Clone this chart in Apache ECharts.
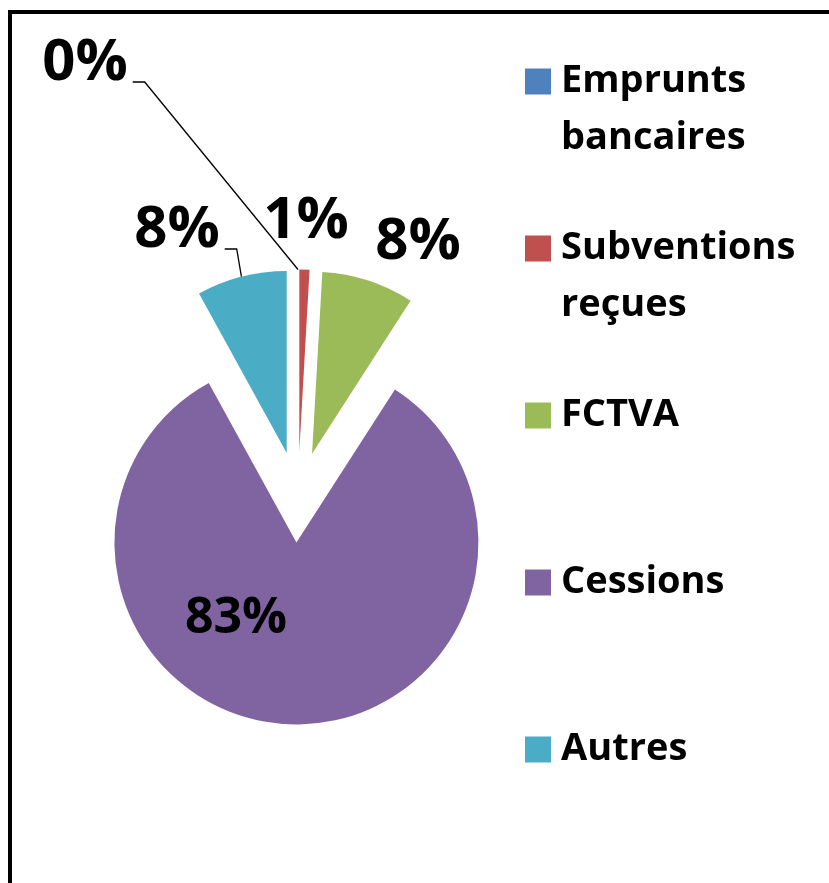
<!DOCTYPE html>
<html>
<head>
<meta charset="utf-8">
<script src="https://cdn.jsdelivr.net/npm/echarts@6/dist/echarts.min.js"></script>
<style>
html,body{margin:0;padding:0;background:#fff}
#chart{width:829px;height:883px}
</style>
</head>
<body>
<div id="chart"></div>
<script>
// data
var categories = ['Emprunts bancaires', 'Subventions reçues', 'FCTVA', 'Cessions', 'Autres'];
var legendLines = [['Emprunts', 'bancaires'], ['Subventions', 'reçues'], ['FCTVA'], ['Cessions'], ['Autres']];
var values = [0, 0.9, 8.2, 82.9, 8.0];
var colors = ['#4F81BD', '#C0504D', '#9BBB59', '#8064A2', '#4BACC6'];

// layout
var pieCenter = [298, 497];
var pieRadius = 182;
var explode = 45.5;
var labelPos = [[85, 63], [306, 221], [418, 242], [236, 619], [177, 230]]; // text centres, as placed in the original
var labelSize = [58, 58, 58, 50, 58];
var leader = [true, false, false, false, true];
var font = 'Open Sans';

var total = values.reduce(function (a, b) { return a + b; }, 0);

// middle of a slice's (exploded) outer arc, where the leader line ends
function arcMid(i) {
    var before = 0;
    for (var k = 0; k < i; k++) before += values[k];
    var a = (before + values[i] / 2) / total * Math.PI * 2;
    var d = explode + pieRadius;
    return [pieCenter[0] + Math.sin(a) * d, pieCenter[1] - Math.cos(a) * d];
}

var chart = echarts.init(document.getElementById('chart'));

var option = {
    animation: false,
    color: colors,
    graphic: [{
        type: 'rect',
        shape: {x: 10, y: 12, width: 840, height: 900},
        style: {fill: null, stroke: '#000', lineWidth: 4},
        silent: true
    }],
    legend: {
        orient: 'vertical',
        left: 525,
        top: -4,
        padding: 0,
        itemGap: -4,
        itemWidth: 26,
        itemHeight: 26,
        icon: 'rect',
        selectedMode: false,
        data: categories,
        formatter: function (name) {
            var lines = legendLines[categories.indexOf(name)];
            return '\n' + lines.join('\n') + (lines.length === 1 ? '\n' : '');
        },
        textStyle: {
            fontFamily: font,
            fontWeight: 'bold',
            fontSize: 38,
            lineHeight: 57,
            color: '#000',
            padding: [0, 0, 0, 5]
        }
    },
    series: [{
        // the exploded slices
        type: 'pie',
        z: 2,
        center: pieCenter,
        radius: pieRadius,
        startAngle: 90,
        selectedMode: 'multiple',
        selectedOffset: explode,
        silent: true,
        label: {show: false},
        labelLine: {show: false},
        data: categories.map(function (name, i) {
            return {name: name, value: values[i], selected: true};
        })
    }, {
        // same pie, unexploded and transparent, only carries the percent labels
        type: 'pie',
        z: 5,
        center: pieCenter,
        radius: pieRadius,
        startAngle: 90,
        silent: true,
        avoidLabelOverlap: false,
        itemStyle: {color: 'rgba(0,0,0,0)'},
        label: {
            show: true,
            position: 'outside',
            fontFamily: font,
            fontWeight: 'bold',
            color: '#000',
            formatter: function (p) { return Math.round(p.percent) + '%'; }
        },
        labelLine: {
            show: true,
            lineStyle: {color: '#000', width: 1.3}
        },
        labelLayout: function (p) {
            var i = p.dataIndex;
            var pos = labelPos[i];
            var out = {x: pos[0], y: pos[1], align: 'center', verticalAlign: 'middle', hideOverlap: false};
            if (leader[i]) {
                var right = pos[0] + p.labelRect.width / 2;
                out.labelLinePoints = [[right + 5, pos[1] + 19], [right + 17, pos[1] + 19], arcMid(i)];
            }
            return out;
        },
        data: categories.map(function (name, i) {
            return {
                name: name,
                value: values[i],
                label: {fontSize: labelSize[i]},
                labelLine: {show: leader[i]}
            };
        })
    }]
};

chart.setOption(option);
</script>
</body>
</html>
